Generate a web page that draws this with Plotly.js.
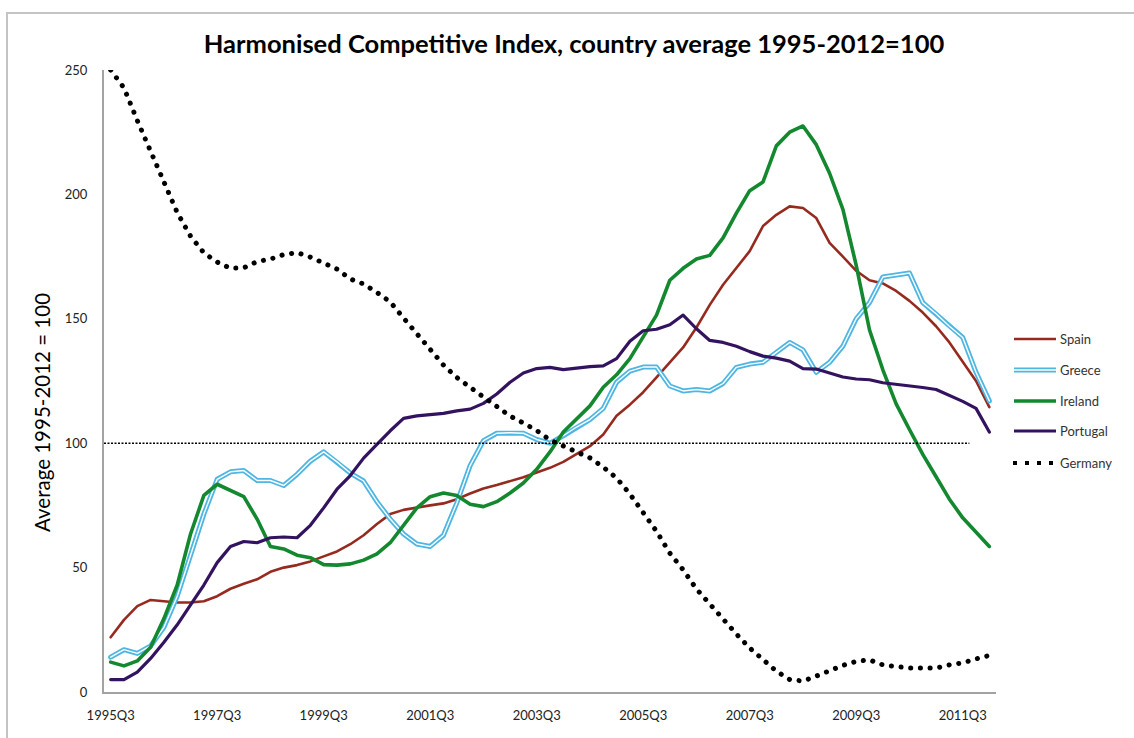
<!DOCTYPE html>
<html><head><meta charset="utf-8">
<script src="https://cdn.plot.ly/plotly-3.0.1.min.js"></script>
<style>
html,body{margin:0;padding:0;background:#fff;overflow:hidden;}
#chart{width:1134px;height:738px;}
.scatterlayer .js-line{stroke-linecap:round;stroke-linejoin:round;}
#frame{position:absolute;left:6px;top:12px;width:1300px;height:900px;border-left:2px solid #c4c4c4;border-top:2px solid #c4c4c4;pointer-events:none;}
</style></head><body>
<div id="chart"></div>
<div id="frame"></div>
<script>
var quarters = ['1995Q3','1995Q4',
 '1996Q1','1996Q2','1996Q3','1996Q4','1997Q1','1997Q2','1997Q3','1997Q4',
 '1998Q1','1998Q2','1998Q3','1998Q4','1999Q1','1999Q2','1999Q3','1999Q4',
 '2000Q1','2000Q2','2000Q3','2000Q4','2001Q1','2001Q2','2001Q3','2001Q4',
 '2002Q1','2002Q2','2002Q3','2002Q4','2003Q1','2003Q2','2003Q3','2003Q4',
 '2004Q1','2004Q2','2004Q3','2004Q4','2005Q1','2005Q2','2005Q3','2005Q4',
 '2006Q1','2006Q2','2006Q3','2006Q4','2007Q1','2007Q2','2007Q3','2007Q4',
 '2008Q1','2008Q2','2008Q3','2008Q4','2009Q1','2009Q2','2009Q3','2009Q4',
 '2010Q1','2010Q2','2010Q3','2010Q4','2011Q1','2011Q2','2011Q3','2011Q4',
 '2012Q1'];
var tickLabels = ['1995Q3','1997Q3','1999Q3','2001Q3','2003Q3','2005Q3','2007Q3','2009Q3','2011Q3'];
var yTicks = [0,50,100,150,200,250];

var spain = [22,29,34.5,37,36.5,36,36,36.5,38.5,41.5,43.5,45.3,48.3,50,51,52.5,54.5,56.5,
 59.4,63,67.5,71.5,73.2,74.2,75,75.8,77.5,79.8,81.8,83.2,84.6,86.3,88.2,90.1,92.5,95.7,
 98.8,103.5,111,115.5,120.5,126.5,132.5,138.5,146.5,155.6,163.7,170.3,177.2,187.3,191.8,195.2,
 194.5,190.5,180.5,175,169.3,165.5,164.2,161.2,157.2,152.5,147,140.5,133,125,114.5];
var greece = [14,17,15.5,18.5,26,38.5,55,71.5,85.5,88.5,89,85,85,83,87.5,92.8,96.5,92.5,
 88,84.8,76.5,69.5,63.5,59.5,58.5,63,76,91,101,104,104.2,104,101.5,100,103,106.5,
 109.5,114,124.5,129,130.6,130.6,123,121,121.6,121,124,130.5,131.8,132.5,136.5,140.5,
 137.5,128.5,132.5,139,150,156.5,166.8,167.6,168.4,156.5,152,147,142.5,128.5,117];
var ireland = [12,10.5,12.5,18,29.5,43,63.5,79,83.5,81,78.5,69.5,58.5,57.5,55,54,51.2,51,
 51.5,53,55.5,60,67,74,78.5,80,79,75.5,74.5,76.5,80,84,89.5,96.5,104.5,110,
 115,122.5,127.5,134,142.5,151.5,165.5,170.3,174,175.5,182.5,192.5,201.5,205,219.5,225,
 227.5,220,208.5,194,171.5,145.5,129.5,115.8,105.5,95.5,86.5,77.5,70,64,58.5];
var portugal = [5,5,8,13.5,20,27,35,43,52,58.5,60.5,60,62,62.3,62,67,74,81.5,
 87,94,99.5,105,110,111,111.5,112,113,113.7,116,119.8,124.5,128.2,130,130.5,129.6,130.3,
 130.8,131.1,134,141,145.2,145.8,147.6,151.5,146,141.3,140.5,139,136.8,135,134.2,133,
 130,129.8,128.2,126.6,125.8,125.5,124.3,123.7,123.2,122.4,121.6,119.2,116.8,114,104.5];
var germany = [250,242.8,229.7,217.4,205.4,192.7,183.2,176.5,172.8,170.3,170.5,173,174,175.8,176.6,174.8,172.4,170,
 166,164,160.6,156.8,150.3,143.9,137.7,131.4,126.4,122.2,118.6,114.8,110.9,108.1,105.1,101.3,98.9,96.5,
 94.1,90.4,86,79.6,72.3,64.6,55.8,49.1,41.4,35.4,28.9,23.3,17.7,12.9,8.4,5,
 4.4,6.4,8.6,10.7,12.3,12.9,10.9,10,9.6,9.6,9.6,10.9,11.7,13.3,14.7];
var referenceLevel = 100;

var names = ['Spain','Greece','Ireland','Portugal','Germany'];
var colors = {Spain:'#962a1f', Greece:'#4db6e2', Ireland:'#14882f', Portugal:'#33135f', Germany:'#000000'};

var traces = [
 {x:quarters, y:spain, name:'Spain', type:'scatter', mode:'lines', line:{color:colors.Spain, width:2.6}},
 {x:quarters, y:greece, name:'Greece', type:'scatter', mode:'lines', line:{color:colors.Greece, width:5}},
 {x:quarters, y:greece, name:'Greece inner', type:'scatter', mode:'lines', line:{color:'#ffffff', width:1.4}},
 {x:quarters, y:ireland, name:'Ireland', type:'scatter', mode:'lines', line:{color:colors.Ireland, width:3.6}},
 {x:quarters, y:portugal, name:'Portugal', type:'scatter', mode:'lines', line:{color:colors.Portugal, width:3.2}},
 {x:quarters, y:germany, name:'Germany', type:'scatter', mode:'lines', line:{color:colors.Germany, width:5, dash:'0.1px,9.6px'}}
];

// plot area geometry helpers (paper coords for the custom legend)
var L = 104, R = 138, T = 70, B = 46, W = 1134, H = 738;
function px(xp){ return (xp - L) / (W - L - R); }
function py(yp){ return (H - B - yp) / (H - T - B); }

var legendY = [339, 370, 401, 431, 463];
var shapes = [
 {type:'line', xref:'x', yref:'y', x0:-0.5, x1:64.5, y0:referenceLevel, y1:referenceLevel,
  line:{color:'#000', width:1.4, dash:'2px,1.5px'}}
];
var annotations = [];
names.forEach(function(n, i){
  var yy = py(legendY[i]);
  if (n === 'Greece') {
    shapes.push({type:'line', xref:'paper', yref:'paper', x0:px(1014), x1:px(1056), y0:yy, y1:yy, line:{color:colors.Greece, width:5}});
    shapes.push({type:'line', xref:'paper', yref:'paper', x0:px(1014), x1:px(1056), y0:yy, y1:yy, line:{color:'#fff', width:1.4}});
  } else if (n === 'Germany') {
    shapes.push({type:'line', xref:'paper', yref:'paper', x0:px(1013), x1:px(1057), y0:yy, y1:yy, line:{color:'#000', width:4, dash:'4px,8px'}});
  } else {
    shapes.push({type:'line', xref:'paper', yref:'paper', x0:px(1014), x1:px(1056), y0:yy, y1:yy, line:{color:colors[n], width: n==='Spain'?2.6:(n==='Ireland'?3.6:3.2)}});
  }
  annotations.push({xref:'paper', yref:'paper', x:px(1058), y:yy, xanchor:'left', yanchor:'middle',
    text:n, showarrow:false, font:{family:'Lato, sans-serif', size:13, color:'#333'}});
});
annotations.push({xref:'paper', yref:'paper', x:px(42), y:py(413), xanchor:'center', yanchor:'middle',
  text:'Average 1995-2012 = 100', textangle:-90, showarrow:false,
  font:{family:'Lato, sans-serif', size:20.5, color:'#000'}});

var layout = {
  width:W, height:H,
  margin:{l:L, r:R, t:T, b:B, pad:0},
  paper_bgcolor:'#fff', plot_bgcolor:'#fff',
  showlegend:false,
  title:{text:'Harmonised Competitive Index, country average 1995-2012=100',
    x:574/W, xanchor:'center', xref:'container', y:1-44/H, yanchor:'middle', yref:'container',
    font:{family:'Lato, sans-serif', size:25.5, color:'#000', weight:'bold'}},
  xaxis:{type:'category', range:[-0.5, 66.5], tickmode:'array', tickvals:tickLabels, ticktext:tickLabels,
    showgrid:false, zeroline:false, showline:true, linecolor:'#a3a3a3', linewidth:2,
    ticks:'', ticklabelstandoff:10, tickangle:0,
    tickfont:{family:'Lato, sans-serif', size:13, color:'#222'}},
  yaxis:{range:[0,250], tickmode:'array', tickvals:yTicks,
    showgrid:false, zeroline:false, showline:true, linecolor:'#a3a3a3', linewidth:2,
    ticks:'', ticklabelstandoff:12,
    tickfont:{family:'Lato, sans-serif', size:13, color:'#222'}},
  shapes:shapes, annotations:annotations
};

Plotly.newPlot('chart', traces, layout, {staticPlot:true, displayModeBar:false});
</script></body></html>
